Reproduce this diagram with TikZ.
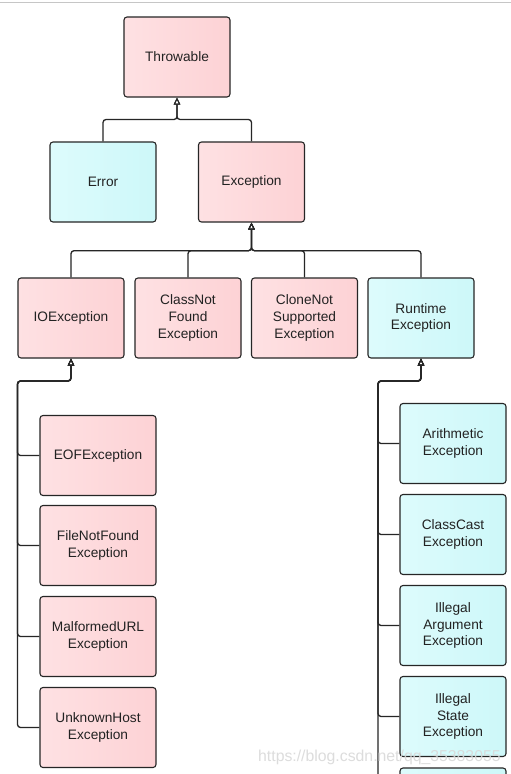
\documentclass[tikz,border=0pt]{standalone}
\usepackage{fontspec}
\setmainfont{Liberation Sans}
\usetikzlibrary{arrows.meta}
\definecolor{pinkL}{HTML}{FEE1E3}
\definecolor{pinkR}{HTML}{FDD2D5}
\definecolor{cyanL}{HTML}{DDFBFC}
\definecolor{cyanR}{HTML}{CDF8F9}
\definecolor{edge}{HTML}{262626}
\definecolor{txt}{HTML}{222222}
\tikzset{
  box/.style={draw=edge, line width=1.1pt, rounded corners=3pt,
    minimum width=106pt, minimum height=80pt, inner sep=0pt,
    align=center, text=txt, font=\fontsize{13.7}{16.9}\selectfont},
  wide/.style={minimum width=116pt},
  pinkbox/.style={box, left color=pinkL, right color=pinkR},
  cyanbox/.style={box, left color=cyanL, right color=cyanR},
  conn/.style={draw=edge, line width=1.3pt, rounded corners=3pt},
  inh/.style={conn, -{Triangle[open, length=7pt, width=6.5pt, line width=1pt]}},
}
\begin{document}
\begin{tikzpicture}[x=1pt, y=-1pt]
\useasboundingbox (0,0) rectangle (511,774);
\clip (0,0) rectangle (511,774);
\fill[white] (0,0) rectangle (511,774);
\draw[gray!45, line width=1pt] (0,2.3) -- (511,2.3);

% nodes
\node[pinkbox] (thr) at (177,57) {Throwable};
\node[cyanbox] (err) at (103,182) {Error};
\node[pinkbox] (exc) at (251.5,182) {Exception};

\node[pinkbox] (io) at (71,318) {IOException};
\node[pinkbox] (cnf) at (188,318) {ClassNot\\Found\\Exception};
\node[pinkbox] (cns) at (304.5,318) {CloneNot\\Supported\\Exception};
\node[cyanbox] (rt) at (421,318) {Runtime\\Exception};

\node[pinkbox, wide] (eof) at (98,455.5) {EOFException};
\node[pinkbox, wide] (fnf) at (98,545.5) {FileNotFound\\Exception};
\node[pinkbox, wide] (mal) at (98,636.5) {MalformedURL\\Exception};
\node[pinkbox, wide] (uh) at (98,727.5) {UnknownHost\\Exception};

\node[cyanbox] (ari) at (453,443.5) {Arithmetic\\Exception};
\node[cyanbox] (cc) at (453,534.5) {ClassCast\\Exception};
\node[cyanbox] (ia) at (453,625.5) {Illegal\\Argument\\Exception};
\node[cyanbox] (is) at (453,716.5) {Illegal\\State\\Exception};
\node[cyanbox] (more) at (453,808) {};

% junction coordinates
\coordinate (j1) at (177,119.5);
\coordinate (j2) at (251.5,250.7);
\coordinate (jl) at (17.5,381);
\coordinate (jr) at (378,381);

% connectors
\draw[inh] (err.north) |- (j1) -- (thr.south);
\draw[inh] (exc.north) |- (j1) -- (thr.south);

\draw[inh] (io.north) |- (j2) -- (exc.south);
\draw[inh] (cnf.north) |- (j2) -- (exc.south);
\draw[inh] (cns.north) |- (j2) -- (exc.south);
\draw[inh] (rt.north) |- (j2) -- (exc.south);

\foreach \c in {eof,fnf,mal,uh}
  \draw[inh] (\c.west) -| (jl) -| (io.south);
\foreach \c in {ari,cc,ia,is,more}
  \draw[inh] (\c.west) -| (jr) -| (rt.south);

% watermark
\node[text=gray!30, opacity=0.9, font=\fontsize{15.8}{18}\selectfont, anchor=base west, inner sep=0pt] (wm) at (258,761) {https://blog.csdn.net/qq\_35383055};
\end{tikzpicture}
\end{document}
